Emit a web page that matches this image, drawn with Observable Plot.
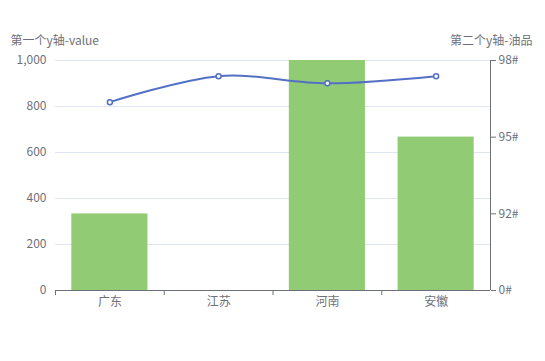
<!DOCTYPE html>
<html><head><meta charset="utf-8">
<script src="https://cdn.jsdelivr.net/npm/d3@7"></script>
<script src="https://cdn.jsdelivr.net/npm/@observablehq/plot@0.6"></script>
<style>body{margin:0;background:#fff}</style>
</head><body><div id="chart"></div>
<script>
const provinces = ["广东", "江苏", "河南", "安徽"];
const barValues = [333, 0, 1000, 667];
const lineValues = [819, 932, 901, 932];
const leftTicks = [0, 200, 400, 600, 800, 1000];
const rightTickLabels = ["0#", "92#", "95#", "98#"];
const rightTickValues = [0, 1000 / 3, 2000 / 3, 1000];
const leftTitle = "第一个y轴-value";
const rightTitle = "第二个y轴-油品";

const W = 545, H = 361, ML = 55, MR = 55, MT = 60, MB = 71;
const step = (W - ML - MR) / provinces.length;
const data = provinces.map((p, i) => ({p, bar: barValues[i], line: lineValues[i]}));
const axisColor = "#6e7079";
const font = "'Noto Sans CJK SC', 'Noto Sans', sans-serif";

const chart = Plot.plot({
  width: W, height: H,
  marginLeft: ML, marginRight: MR, marginTop: MT, marginBottom: MB,
  style: {fontFamily: font, fontSize: "12px", color: axisColor, background: "#fff"},
  x: {domain: provinces, paddingInner: 0.3, paddingOuter: 0.15, round: false, label: null},
  y: {domain: [0, 1000], label: null},
  marks: [
    Plot.ruleY(leftTicks, {stroke: "#e0e6f1", strokeWidth: 1}),
    Plot.barY(data, {x: "p", y: "bar", fill: "#91cc75"}),
    Plot.ruleY([0], {stroke: axisColor, strokeWidth: 1}),
    Plot.ruleX(provinces, {x: d => d, dx: -step / 2, y1: 0, y2: -22, stroke: axisColor}),
    Plot.ruleX([provinces[provinces.length - 1]], {x: d => d, dx: step / 2, y1: 0, y2: 1000, stroke: axisColor}),
    Plot.axisY({ticks: leftTicks, anchor: "left", tickSize: 0, tickPadding: 9, tickFormat: d3.format(","), fill: axisColor, fontSize: 12, label: null}),
    Plot.axisY({ticks: rightTickValues, anchor: "right", tickSize: 5, tickPadding: 3, tickFormat: (d, i) => rightTickLabels[i], stroke: axisColor, fill: axisColor, fontSize: 12, label: null}),
    Plot.axisX({tickSize: 0, tickPadding: 7, fill: axisColor, fontSize: 12, label: null}),
    Plot.line(data, {x: "p", y: "line", stroke: "#5470c6", strokeWidth: 2, curve: "catmull-rom"}),
    Plot.dot(data, {x: "p", y: "line", r: 2.5, fill: "#fff", stroke: "#5470c6", strokeWidth: 1.5}),
    Plot.text([leftTitle], {frameAnchor: "top-left", dx: -45, dy: -24, textAnchor: "start", fill: axisColor, fontSize: 12}),
    Plot.text([rightTitle], {frameAnchor: "top-right", dx: 42, dy: -24, textAnchor: "end", fill: axisColor, fontSize: 12})
  ]
});
document.getElementById("chart").appendChild(chart);
</script>
</body></html>
